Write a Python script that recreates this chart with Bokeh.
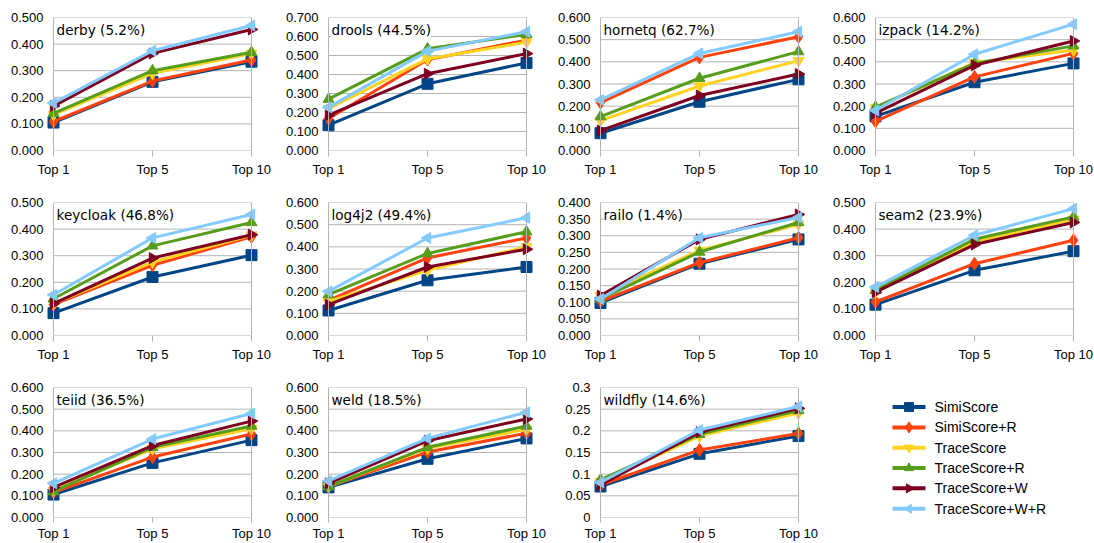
import numpy as np
from bokeh.plotting import figure
from bokeh.models import (Range1d, FixedTicker, NumeralTickFormatter, Label, Span)
from bokeh.core.properties import value
from bokeh.layouts import column, row
from bokeh.embed import file_html
from bokeh.resources import INLINE

# ---------------- data ----------------
categories = ["Top 1", "Top 5", "Top 10"]
series = ["SimiScore", "SimiScore+R", "TraceScore", "TraceScore+R",
          "TraceScore+W", "TraceScore+W+R"]
colors = ["#004586", "#ff420e", "#ffd320", "#579d1c", "#7e0021", "#83caff"]

projects = ["derby", "drools", "hornetq", "izpack", "keycloak", "log4j2",
            "railo", "seam2", "teiid", "weld", "wildfly"]
shares = ["5.2%", "44.5%", "62.7%", "14.2%", "46.8%", "49.4%",
          "1.4%", "23.9%", "36.5%", "18.5%", "14.6%"]
y_max = [0.5, 0.7, 0.6, 0.6, 0.5, 0.6, 0.4, 0.5, 0.6, 0.6, 0.3]
y_step = [0.1, 0.1, 0.1, 0.1, 0.1, 0.1, 0.05, 0.1, 0.1, 0.1, 0.05]
y_format = ["0.000"] * 10 + ["0.[00]"]

# values per project, series order as in `series`, each [Top 1, Top 5, Top 10]
derby = [[0.105, 0.258, 0.334], [0.109, 0.261, 0.340], [0.135, 0.290, 0.365],
         [0.140, 0.300, 0.369], [0.167, 0.365, 0.455], [0.178, 0.375, 0.470]]
drools = [[0.133, 0.351, 0.461], [0.168, 0.478, 0.581], [0.220, 0.482, 0.570],
          [0.270, 0.535, 0.611], [0.186, 0.404, 0.510], [0.227, 0.523, 0.625]]
hornetq = [[0.078, 0.220, 0.321], [0.216, 0.420, 0.513], [0.135, 0.291, 0.405],
           [0.153, 0.326, 0.446], [0.090, 0.248, 0.345], [0.228, 0.438, 0.536]]
izpack = [[0.154, 0.308, 0.393], [0.131, 0.332, 0.438], [0.192, 0.396, 0.453],
          [0.196, 0.393, 0.472], [0.169, 0.384, 0.494], [0.181, 0.434, 0.570]]
keycloak = [[0.084, 0.220, 0.302], [0.116, 0.264, 0.371], [0.120, 0.276, 0.377],
            [0.138, 0.337, 0.425], [0.120, 0.291, 0.379], [0.153, 0.367, 0.455]]
log4j2 = [[0.113, 0.249, 0.309], [0.158, 0.350, 0.440], [0.154, 0.294, 0.400],
          [0.184, 0.370, 0.468], [0.139, 0.309, 0.389], [0.199, 0.440, 0.531]]
railo = [[0.098, 0.216, 0.289], [0.103, 0.219, 0.294], [0.120, 0.256, 0.334],
         [0.110, 0.251, 0.340], [0.120, 0.289, 0.364], [0.110, 0.294, 0.355]]
seam2 = [[0.116, 0.245, 0.317], [0.126, 0.270, 0.358], [0.163, 0.352, 0.437],
         [0.170, 0.362, 0.446], [0.163, 0.342, 0.425], [0.182, 0.377, 0.477]]
teiid = [[0.106, 0.252, 0.357], [0.116, 0.279, 0.385], [0.124, 0.317, 0.410],
         [0.120, 0.324, 0.422], [0.139, 0.332, 0.445], [0.158, 0.362, 0.480]]
weld = [[0.139, 0.271, 0.365], [0.143, 0.302, 0.389], [0.143, 0.320, 0.407],
        [0.143, 0.324, 0.422], [0.158, 0.354, 0.455], [0.169, 0.365, 0.486]]
wildfly = [[0.0716, 0.147, 0.188], [0.075, 0.156, 0.194], [0.083, 0.188, 0.241],
           [0.087, 0.192, 0.247], [0.075, 0.197, 0.252], [0.081, 0.202, 0.256]]

panel_values = [derby, drools, hornetq, izpack, keycloak, log4j2,
                railo, seam2, teiid, weld, wildfly]

# ---------------- styling ----------------
markers = ["square", "diamond", "inverted_triangle", "triangle", "triangle", "triangle"]
angles = [0, 0, 0, 0, -np.pi / 2, np.pi / 2]
msizes = [11, 13, 11, 11, 11, 11]
GRID = "#b3b3b3"
AXFONT = "Liberation Sans"

col_w = [275, 275, 275, 269]
col_bl = [46, 46, 43, 43]
row_h = [185, 185, 173]
BORDER_TOP = 17
FRAME_W = 212
FRAME_H = 133
PAD = 7.0 / 99.0  # 7px on each side in data units (198px per 2 units)
x_pos = list(range(len(categories)))


def make_panel(k, c, r):
    ymax = y_max[k]
    step = y_step[k]
    w = col_w[c]
    bl = col_bl[c]
    br = w - bl - FRAME_W
    h = row_h[r]
    bb = h - BORDER_TOP - FRAME_H
    p = figure(width=w, height=h, output_backend="svg", toolbar_location=None,
               x_range=Range1d(-PAD, len(categories) - 1 + PAD),
               y_range=Range1d(0, ymax),
               min_border_left=bl, min_border_right=br,
               min_border_top=BORDER_TOP, min_border_bottom=bb)
    p.outline_line_color = None
    p.grid.visible = False
    p.background_fill_color = "white"

    nt = int(round(ymax / step))
    ticks = [round(i * step, 4) for i in range(nt + 1)]
    p.segment(x0=[x_pos[0]] * len(ticks), x1=[x_pos[-1]] * len(ticks),
              y0=ticks, y1=ticks, line_color=GRID, line_width=1)
    p.add_layout(Span(location=x_pos[0], dimension="height", line_color=GRID, line_width=1))
    p.add_layout(Span(location=x_pos[-1], dimension="height", line_color=GRID, line_width=1))

    vals = panel_values[k]
    for i, s in enumerate(series):
        p.line(x_pos, vals[i], line_color=colors[i], line_width=3)
        p.scatter(x_pos, vals[i], marker=markers[i], angle=angles[i],
                  size=msizes[i], fill_color=colors[i], line_color=colors[i])

    p.xaxis.ticker = FixedTicker(ticks=x_pos)
    p.xaxis.major_label_overrides = {x: categories[x] for x in x_pos}
    p.xaxis.axis_line_color = None
    p.xaxis.major_tick_line_color = GRID
    p.xaxis.major_tick_out = 6 if r < 2 else 5
    p.xaxis.major_tick_in = 0
    p.xaxis.minor_tick_line_color = None
    p.xaxis.major_label_standoff = 5 if r < 2 else 3

    p.yaxis.ticker = FixedTicker(ticks=ticks)
    p.yaxis.formatter = NumeralTickFormatter(format=y_format[k])
    p.yaxis.axis_line_color = None
    p.yaxis.major_tick_line_color = None
    p.yaxis.major_tick_out = 0
    p.yaxis.major_tick_in = 0
    p.yaxis.minor_tick_line_color = None
    p.yaxis.major_label_standoff = 3

    for ax in (p.xaxis[0], p.yaxis[0]):
        ax.major_label_text_font = AXFONT
        ax.major_label_text_font_size = "13px"
        ax.major_label_text_color = "#000000"

    p.add_layout(Label(x=x_pos[0], y=ymax, x_offset=3, y_offset=-4,
                       text=f"{projects[k]} ({shares[k]})",
                       text_baseline="top", text_align="left",
                       text_font="DejaVu Sans", text_font_size="13.6px",
                       text_color="#000000",
                       background_fill_color="white"))
    return p


rows = []
k = 0
for r in range(3):
    figs = []
    for c in range(4):
        if k < len(projects):
            figs.append(make_panel(k, c, r))
            k += 1
    rows.append(figs)

# legend panel (drawn by hand so that the rotated triangles keep their direction)
LW = col_w[3]
LH = row_h[2]
LB = LH - BORDER_TOP - FRAME_H
lp = figure(width=LW, height=LH, output_backend="svg", toolbar_location=None,
            x_axis_type=None, y_axis_type=None,
            min_border_left=0, min_border_right=0,
            min_border_top=BORDER_TOP, min_border_bottom=LB,
            x_range=Range1d(0, LW), y_range=Range1d(FRAME_H, 0))
lp.outline_line_color = None
lp.grid.visible = False
leg_x0, leg_x1, leg_text_x = 67, 100, 109
leg_y = [20 + 20.8 * i for i in range(len(series))]
for i, s in enumerate(series):
    lp.segment(x0=leg_x0, x1=leg_x1, y0=leg_y[i], y1=leg_y[i],
               line_color=colors[i], line_width=4)
    lp.scatter(x=[(leg_x0 + leg_x1) / 2], y=[leg_y[i]], marker=markers[i],
               angle=angles[i], size=msizes[i] - 2,
               fill_color=colors[i], line_color=colors[i])
lp.text(x=[leg_text_x] * len(series), y=leg_y, text=series,
        text_font=value(AXFONT), text_font_size="14px", text_color="#000000",
        text_baseline="middle", text_align="left")
rows[2].append(lp)

layout = column(*[row(*fs) for fs in rows])

open("out.html", "w").write(file_html(layout, INLINE))
